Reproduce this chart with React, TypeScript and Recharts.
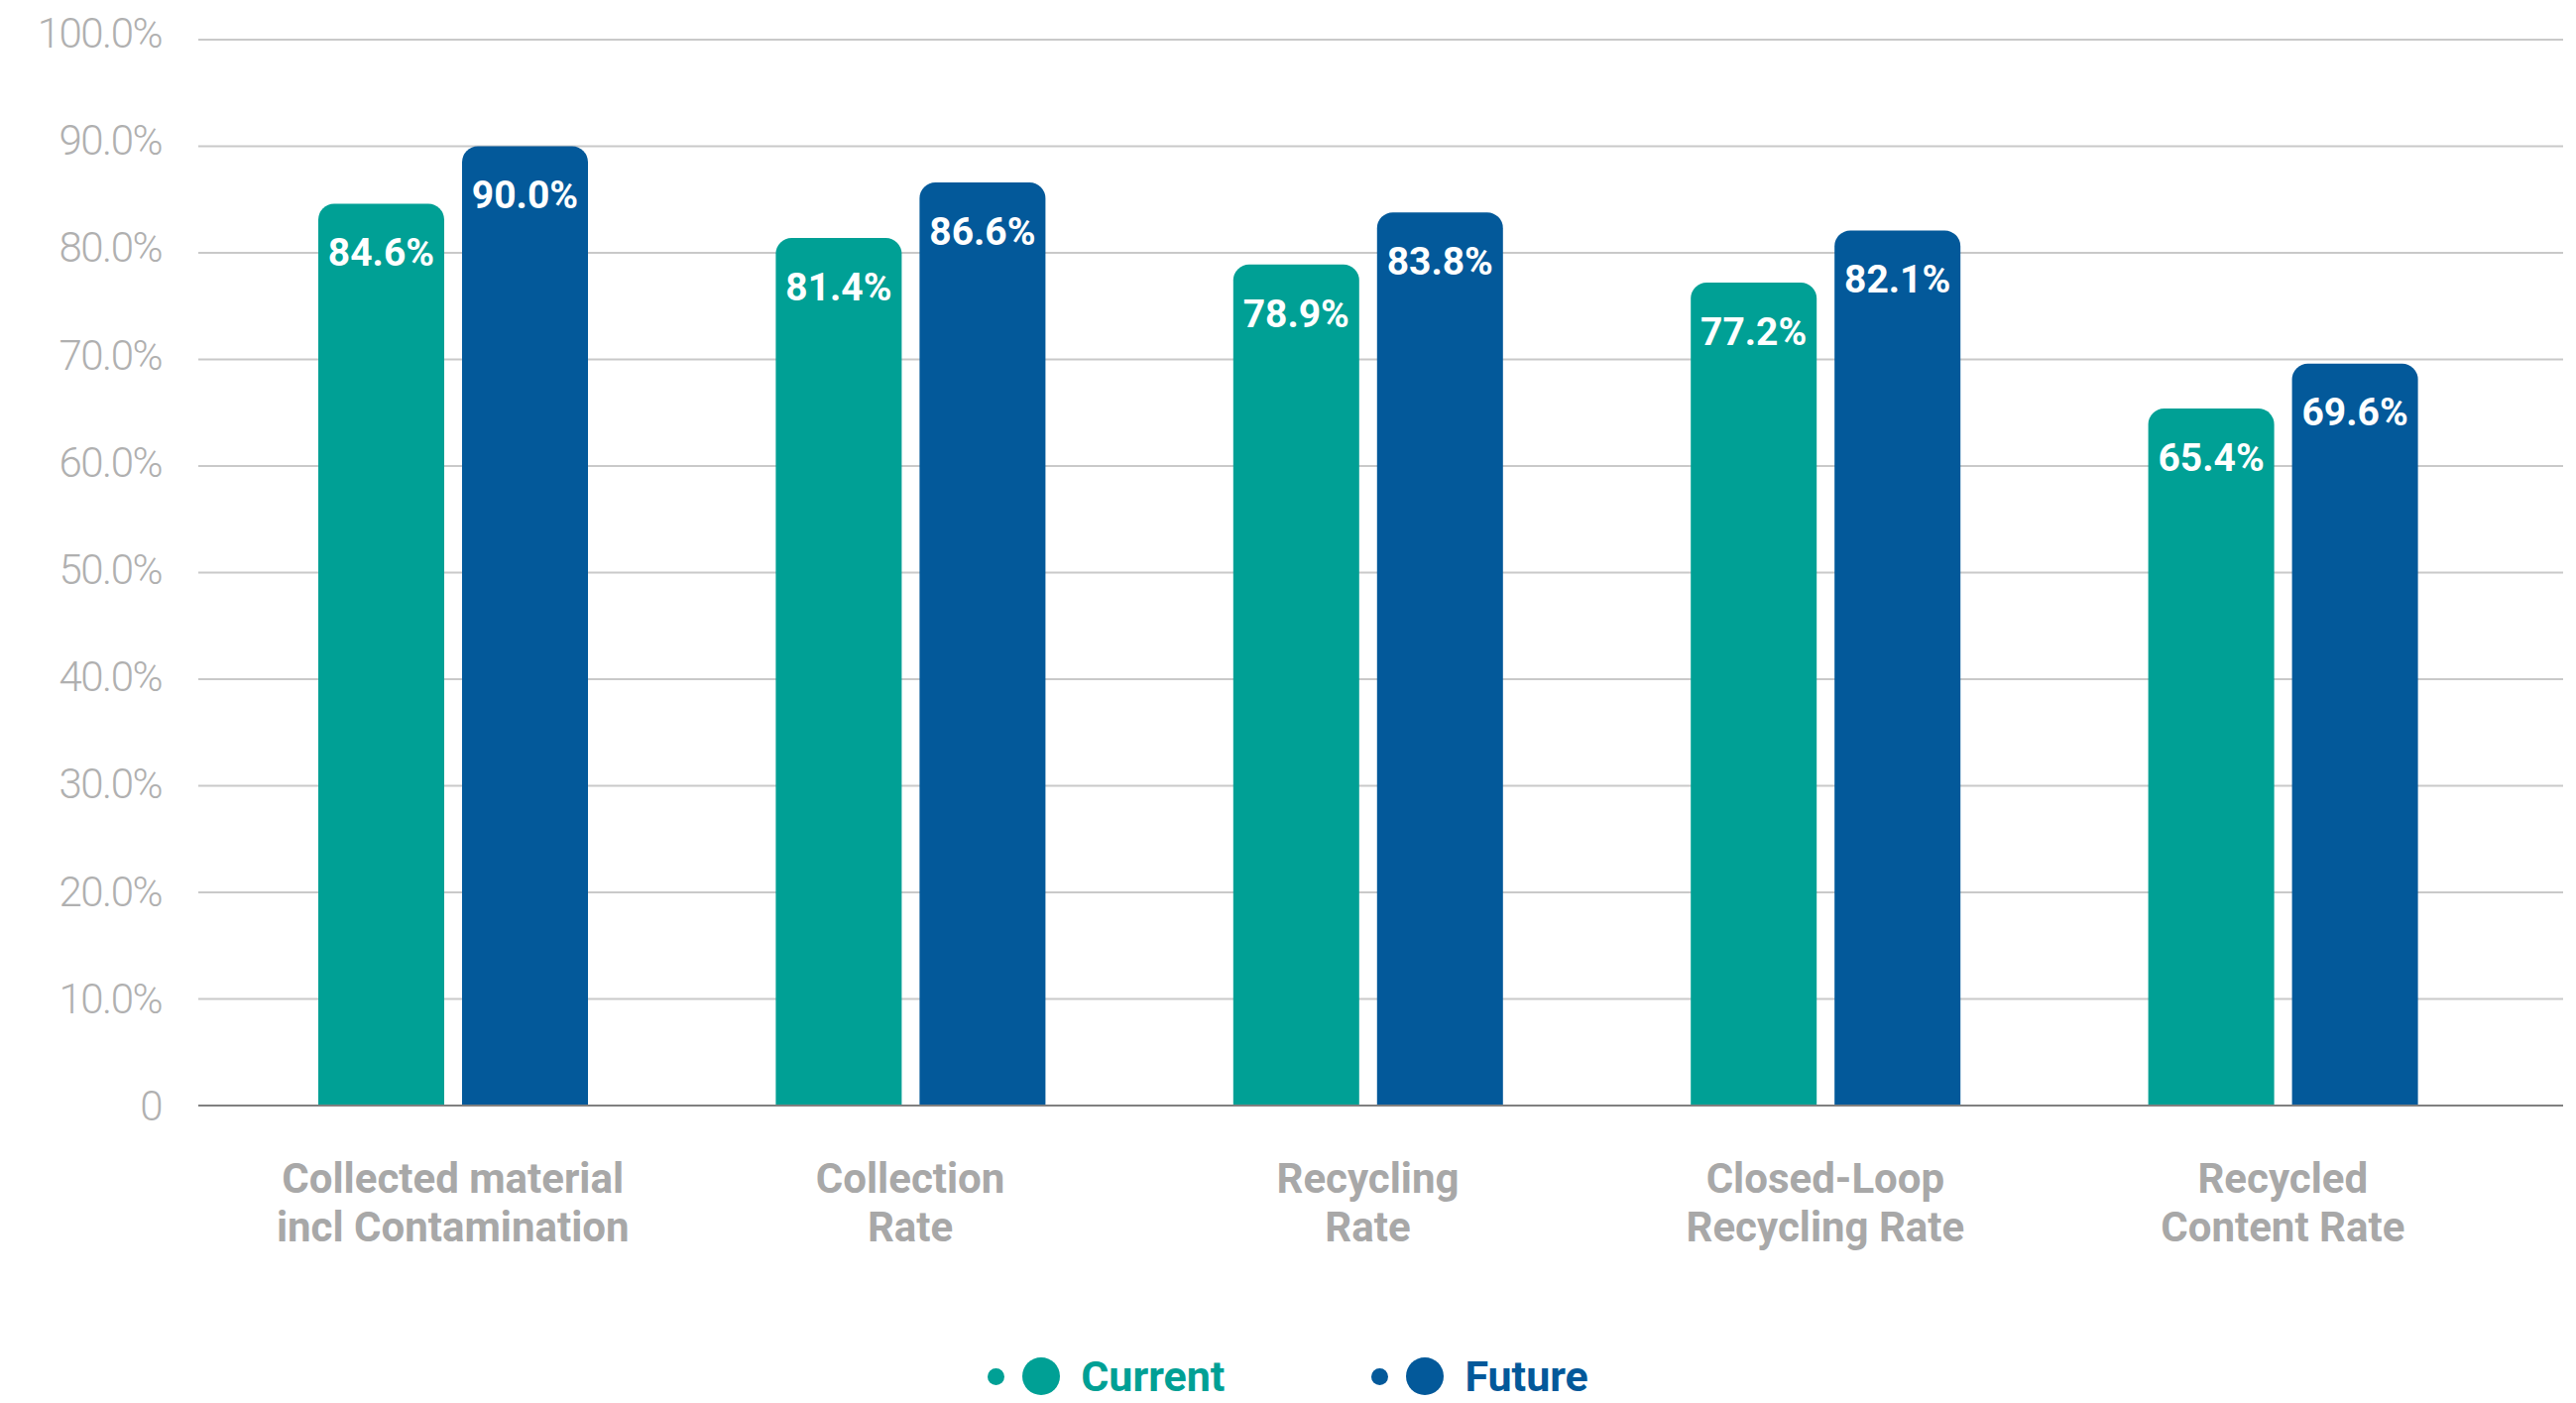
import React from 'react';
import { BarChart, Bar, XAxis, YAxis, CartesianGrid, LabelList, Legend } from 'recharts';

const categories = [
  'Collected material\nincl Contamination',
  'Collection\nRate',
  'Recycling\nRate',
  'Closed-Loop\nRecycling Rate',
  'Recycled\nContent Rate',
];
const currentValues = [84.6, 81.4, 78.9, 77.2, 65.4];
const futureValues = [90.0, 86.6, 83.8, 82.1, 69.6];
const yTicks = [0, 10, 20, 30, 40, 50, 60, 70, 80, 90, 100];
const seriesNames = ['Current', 'Future'];

const TEAL = '#00A095';
const NAVY = '#03599A';

const data = categories.map((c, i) => ({ name: c, current: currentValues[i], future: futureValues[i] }));

const fmtY = (v: number) => (v === 0 ? '0' : v.toFixed(1) + '%');
const fmtLabel = (v: any) => Number(v).toFixed(1) + '%';

const YTick = (props: any) => {
  const { x, y, payload } = props;
  const v = payload.value as number;
  const dy = 8 + (100 - v) * 0.07;
  return (
    <text x={x - 29} y={y + dy} textAnchor="end" fill="#b0b0b0" fontSize={42} fontWeight={300}
      fontFamily="Roboto, sans-serif" letterSpacing={-1.5}>
      {fmtY(v)}
    </text>
  );
};

const XTick = (props: any) => {
  const { x, y, payload } = props;
  const lines = String(payload.value).split('\n');
  return (
    <text x={x} y={y} textAnchor="middle" fill="#a8a8a8" fontSize={42} fontWeight={700}
      fontFamily="Roboto, sans-serif">
      {lines.map((l, i) => (
        <tspan key={i} x={x} dy={i === 0 ? 80 : 49}>{l}</tspan>
      ))}
    </text>
  );
};

const LegendContent = () => {
  const colors = [TEAL, NAVY];
  return (
    <div style={{ display: 'flex', justifyContent: 'center', alignItems: 'center', height: 40, fontFamily: 'Roboto, sans-serif' }}>
      {seriesNames.map((n, i) => (
        <div key={n} style={{ display: 'flex', alignItems: 'center', marginLeft: i === 0 ? 0 : 148 }}>
          <span style={{ width: 17, height: 17, borderRadius: '50%', background: colors[i], display: 'inline-block', marginRight: 18 }} />
          <span style={{ width: 38, height: 38, borderRadius: '50%', background: colors[i], display: 'inline-block', marginRight: 21 }} />
          <span style={{ color: colors[i], fontSize: 43, fontWeight: 700, lineHeight: '40px' }}>{n}</span>
        </div>
      ))}
    </div>
  );
};

export default function App() {
  return (
    <div style={{ position: 'absolute', left: 0, top: 0, width: 2598, height: 1415, background: '#fff' }}>
      <BarChart width={2598} height={1415} data={data}
        margin={{ top: 40, right: 13, left: 0, bottom: 0 }} barSize={127} barGap={18}>
        <CartesianGrid vertical={false} stroke="#c9c9c9" strokeWidth={2} />
        <XAxis dataKey="name" height={300} padding={{ left: 26, right: 52 }} tickLine={false}
          axisLine={{ stroke: '#808080', strokeWidth: 2 }} tick={<XTick />} interval={0} />
        <YAxis width={200} domain={[0, 100]} ticks={yTicks} axisLine={false} tickLine={false}
          tick={<YTick />} interval={0} />
        <Legend content={<LegendContent />}
          wrapperStyle={{ position: 'absolute', top: 1368, left: 0, width: 2598, height: 0, overflow: 'visible' }} />
        <Bar dataKey="current" name={seriesNames[0]} fill={TEAL} radius={[16, 16, 0, 0]} isAnimationActive={false}>
          <LabelList dataKey="current" position="insideTop" offset={35} fill="#ffffff" fontSize={39}
            fontWeight={700} fontFamily="Roboto, sans-serif" formatter={fmtLabel} />
        </Bar>
        <Bar dataKey="future" name={seriesNames[1]} fill={NAVY} radius={[16, 16, 0, 0]} isAnimationActive={false}>
          <LabelList dataKey="future" position="insideTop" offset={35} fill="#ffffff" fontSize={39}
            fontWeight={700} fontFamily="Roboto, sans-serif" formatter={fmtLabel} />
        </Bar>
      </BarChart>
    </div>
  );
}
